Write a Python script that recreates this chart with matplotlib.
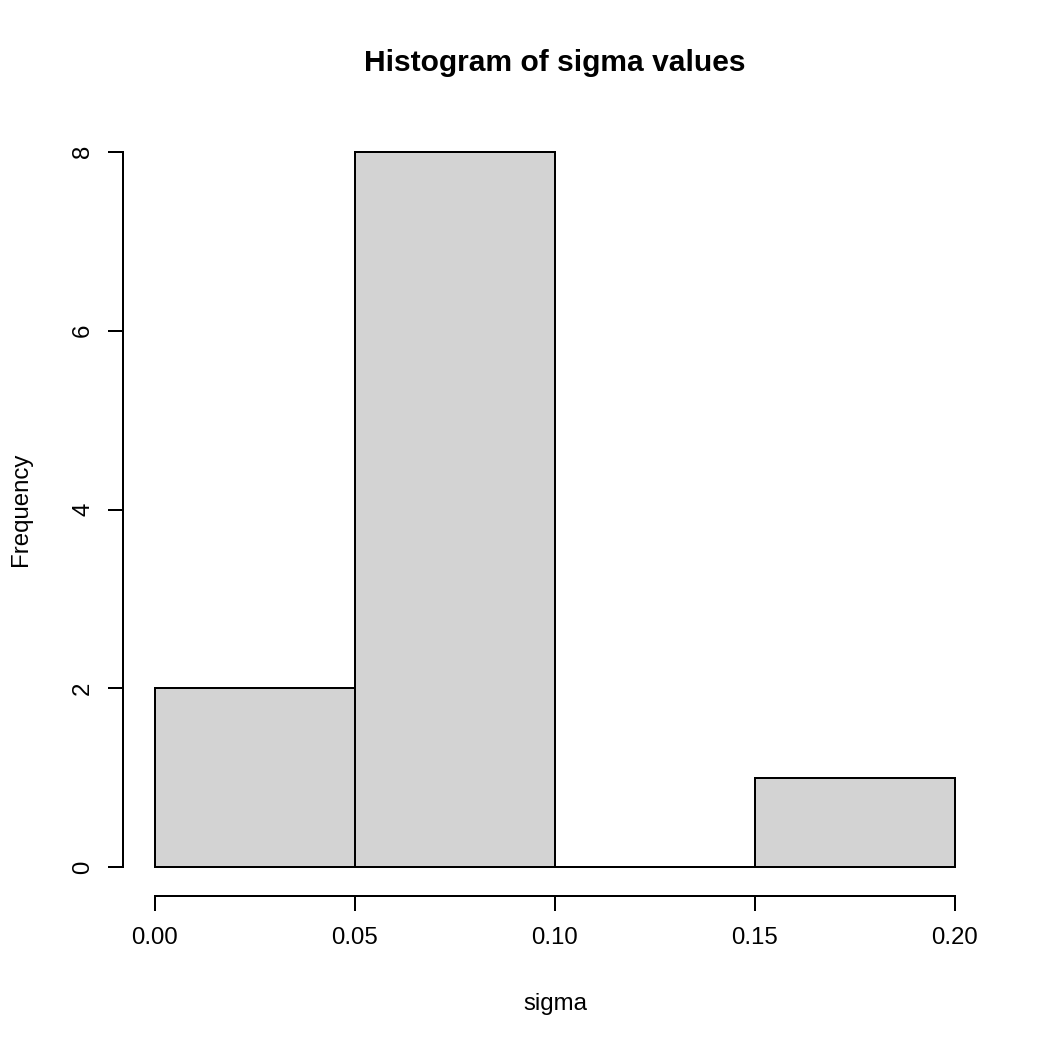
import matplotlib.pyplot as plt

# histogram bins and counts
bin_edges = [0.00, 0.05, 0.10, 0.15, 0.20]
counts = [2, 8, 0, 1]
x_ticks = [0.00, 0.05, 0.10, 0.15, 0.20]
x_tick_labels = ["0.00", "0.05", "0.10", "0.15", "0.20"]
y_ticks = [0, 2, 4, 6, 8]

plt.rcParams['font.family'] = ['Liberation Sans', 'DejaVu Sans']

fig = plt.figure(figsize=(1050 / 144, 1050 / 144), dpi=144)
ax = fig.add_axes([123 / 1050, 1 - 896 / 1050, (987 - 123) / 1050, (896 - 123) / 1050])

widths = [bin_edges[i + 1] - bin_edges[i] for i in range(len(counts))]
ax.bar(bin_edges[:-1], counts, width=widths, align='edge',
       color='#d3d3d3', edgecolor='black', linewidth=1.0)

# R style: 4% padding around the data range, detached axes
ax.set_xlim(-0.008, 0.208)
ax.set_ylim(-0.32, 8.32)

for s in ['top', 'right']:
    ax.spines[s].set_visible(False)
ax.spines['left'].set_bounds(0, 8)
ax.spines['bottom'].set_bounds(0, 0.2)
ax.spines['left'].set_linewidth(1.0)
ax.spines['bottom'].set_linewidth(1.0)

ax.set_xticks(x_ticks)
ax.set_xticklabels(x_tick_labels)
ax.set_yticks(y_ticks)
ax.set_yticklabels([str(v) for v in y_ticks], rotation=90, va='center')
ax.tick_params(axis='both', length=7.5, width=1.0, labelsize=12, direction='out')
ax.tick_params(axis='x', pad=8)
ax.tick_params(axis='y', pad=7)

ax.set_xlabel("sigma", fontsize=12, labelpad=22)
ax.set_ylabel("Frequency", fontsize=12, labelpad=20)
fig.text(555 / 1050, 1 - 63 / 1050, "Histogram of sigma values", ha='center', va='center',
         fontsize=15, fontweight='bold')

fig.savefig("out.png", dpi=144)
